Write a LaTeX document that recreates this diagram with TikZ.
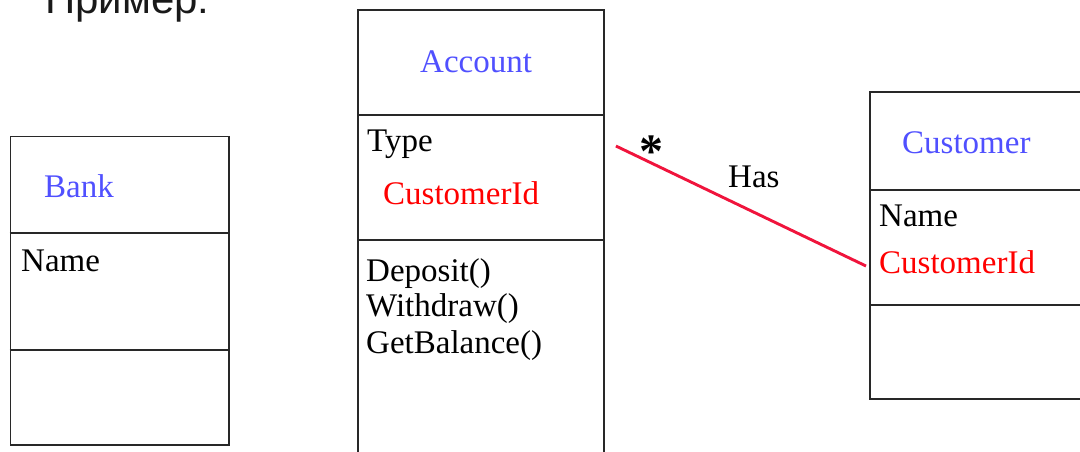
\documentclass[tikz,border=0pt]{standalone}
\usepackage{fontspec}
\setmainfont{Liberation Serif}
\newfontfamily\headfont{Liberation Sans}
\usetikzlibrary{calc}

\definecolor{boxgray}{RGB}{40,40,40}
\definecolor{clsblue}{RGB}{80,80,255}
\definecolor{keyred}{RGB}{255,0,0}
\definecolor{linkred}{RGB}{240,20,60}
\definecolor{headgray}{RGB}{25,25,25}

\begin{document}
\begin{tikzpicture}[x=1pt,y=-1pt,
  box/.style={draw=boxgray, line width=1.9pt, rectangle, anchor=north west, inner sep=0pt},
  divider/.style={draw=boxgray, line width=1.9pt},
  txt/.style={font=\fontsize{33}{36}\selectfont, anchor=base west, inner sep=0pt},
  clsname/.style={txt, text=clsblue},
  attr/.style={txt, text=black},
  keyattr/.style={txt, text=keyred},
  assoc/.style={draw=linkred, line width=2.9pt}]

\useasboundingbox (0,0) rectangle (1080,451);
\clip (0,0) rectangle (1080,451);

% heading
\node[anchor=base west, inner sep=0pt, text=headgray,
      font=\headfont\fontsize{42}{46}\selectfont] (head) at (45,13) {Пример:};

% class Bank
\node[box, minimum width=218.5pt, minimum height=308.5pt] (bank) at (9.5,135.5) {};
\draw[divider] ($(bank.north west)+(0,97.5)$) -- ($(bank.north east)+(0,97.5)$);
\draw[divider] ($(bank.north west)+(0,214.5)$) -- ($(bank.north east)+(0,214.5)$);
\node[clsname] (bankname) at (44,197) {Bank};
\node[attr] (bankattr) at (21,271) {Name};

% class Account
\node[box, minimum width=246pt, minimum height=480pt] (account) at (357,9) {};
\draw[divider] ($(account.north west)+(0,106)$) -- ($(account.north east)+(0,106)$);
\draw[divider] ($(account.north west)+(0,231)$) -- ($(account.north east)+(0,231)$);
\node[clsname] (accname) at (420,72) {Account};
\node[attr] (acctype) at (367,151) {Type};
\node[keyattr] (acckey) at (383,204) {CustomerId};
\node[attr] (accop1) at (366,281) {Deposit()};
\node[attr] (accop2) at (366,316) {Withdraw()};
\node[attr] (accop3) at (366,353) {GetBalance()};

% class Customer
\node[box, minimum width=260pt, minimum height=307pt] (customer) at (869,91) {};
\draw[divider] ($(customer.north west)+(0,99)$) -- ($(customer.north east)+(0,99)$);
\draw[divider] ($(customer.north west)+(0,214)$) -- ($(customer.north east)+(0,214)$);
\node[clsname] (custname) at (902,153) {Customer};
\node[attr] (custattr) at (879,226) {Name};
\node[keyattr] (custkey) at (879,273) {CustomerId};

% association Account -- Customer
\coordinate (accport) at ($(account.north east)+(11,137)$);
\coordinate (custport) at ($(customer.north west)+(-3,175)$);
\draw[assoc] (accport) -- (custport);
\node[anchor=base, inner sep=0pt, font=\bfseries\fontsize{48}{52}\selectfont] (mult) at (651,167) {*};
\node[attr] (assocname) at (728,187) {Has};
\end{tikzpicture}
\end{document}
